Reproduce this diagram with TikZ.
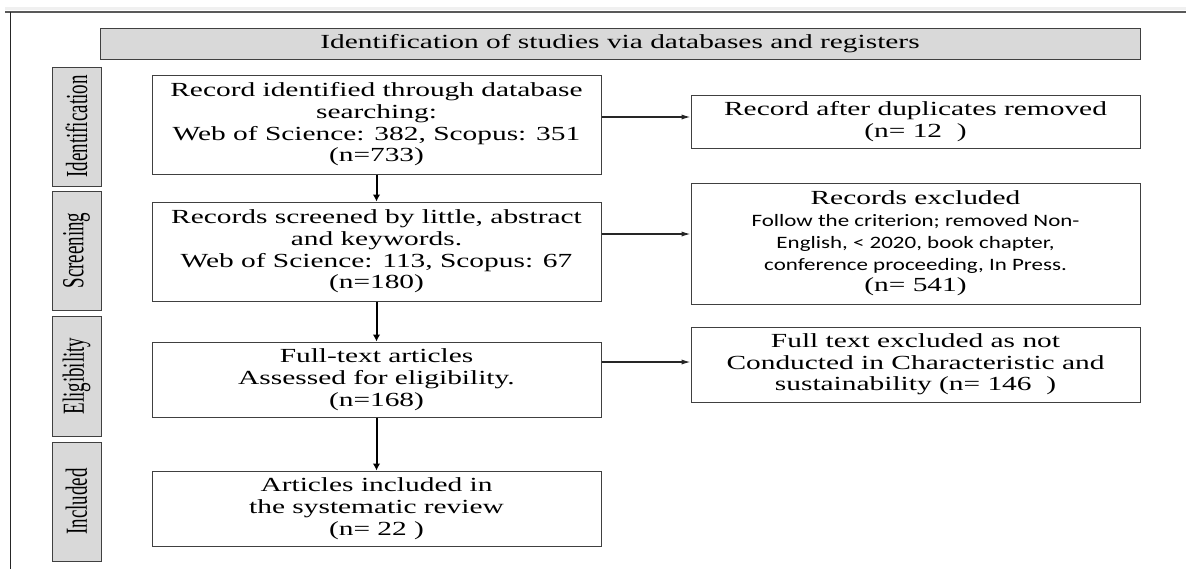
\documentclass[tikz,border=0pt]{standalone}
\usepackage{fontspec}
\usepackage{graphicx}
\usepackage{tikz}
\usetikzlibrary{arrows.meta}
\setmainfont{Liberation Serif}
\newfontfamily\flowfont[FakeStretch=1.47]{Liberation Serif}
\newfontfamily\flowsans{Carlito}
\newfontfamily\phasefont[FakeStretch=0.62]{Liberation Serif}
\newcommand\critline[1]{\scalebox{1.32}[1]{\flowsans\fontsize{8.7pt}{10.85pt}\selectfont #1}}
\definecolor{boxline}{HTML}{404040}
\definecolor{phasegray}{HTML}{D9D9D9}

\begin{document}
\begin{tikzpicture}[x=0.5pt, y=-0.5pt,
  every node/.style={draw=boxline, line width=0.5pt, inner sep=0pt, align=center, font=\flowfont\fontsize{10pt}{10.85pt}\selectfont},
  phase/.style={fill=phasegray, rotate=90, minimum height=24.5pt, font=\phasefont\fontsize{15.3pt}{16pt}\selectfont},
  mainbox/.style={minimum width=224.5pt},
  vline/.style={line width=1pt, -{Latex[length=3.5pt,width=3.8pt]}},
  hline/.style={line width=0.65pt, black!85, -{Latex[length=4.5pt,width=2.6pt]}}]
\useasboundingbox (0,0) rectangle (1186,569);
\fill[black!6] (5,7) rectangle (1186,10);
\draw[black!65, line width=0.6pt] (5,12) -- (1186,12);
\draw[black!85, line width=0.6pt] (10.5,12) -- (10.5,569);
\node[fill=phasegray, minimum width=520pt, minimum height=15.5pt] (H0) at (620,43.5) {Identification of studies via databases and registers};
\node[phase, minimum width=59.5pt] (P1) at (76.5,126.5) {Identification};
\node[phase, minimum width=59.5pt] (P2) at (76.5,250.5) {Screening};
\node[phase, minimum width=60pt] (P3) at (76.5,376) {Eligibility};
\node[phase, minimum width=59.5pt] (P4) at (76.5,501.5) {Included};
\node[mainbox, minimum height=49.5pt] (M1) at (376.5,124.5) {Record identified through database\\searching:\\Web of Science: 382, Scopus: 351\\(n=733)};
\node[mainbox, minimum height=49.5pt] (M2) at (376.5,251.5) {Records screened by little, abstract\\and keywords.\\Web of Science: 113, Scopus: 67\\(n=180)};
\node[mainbox, minimum height=37.5pt] (M3) at (376.5,379.5) {Full-text articles\\Assessed for eligibility.\\(n=168)};
\node[mainbox, minimum height=37.5pt] (M4) at (376.5,508.5) {Articles included in\\the systematic review\\(n=~22~)};
\node[mainbox, minimum height=26.5pt] (R1) at (915.5,121.5) {Record after duplicates removed\\(n=~12\ \ )};
\node[mainbox, minimum height=60.5pt] (R2) at (915.5,243.5) {Records excluded\\\critline{Follow the criterion; removed Non-}\\\critline{English, < 2020, book chapter,}\\\critline{conference proceeding, In Press.}\\(n=~541)};
\node[mainbox, minimum height=37.5pt] (R3) at (915.5,364.5) {Full text excluded as not\\Conducted in Characteristic and\\sustainability (n=~146\ \ )};
\draw[vline] (M1) -- (M2);
\draw[vline] (M2) -- (M3);
\draw[vline] (M3) -- (M4);
\draw[hline] ([yshift=3.75pt]M1.east) -- ([yshift=3.75pt]M1.east -| R1.west);
\draw[hline] ([yshift=8.75pt]M2.east) -- ([yshift=8.75pt]M2.east -| R2.west);
\draw[hline] ([yshift=8.75pt]M3.east) -- ([yshift=8.75pt]M3.east -| R3.west);
\end{tikzpicture}
\end{document}
